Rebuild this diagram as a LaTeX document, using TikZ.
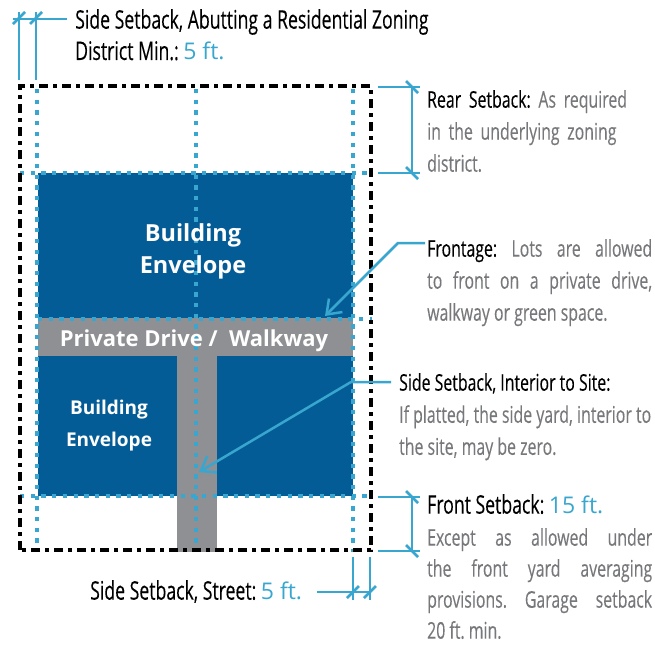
\documentclass[tikz,border=0pt]{standalone}
\usepackage{fontspec}
\setmainfont{Open Sans}[FakeStretch=0.69,FakeBold=0.2]
\newfontfamily\widefont{Open Sans}
\usetikzlibrary{arrows.meta}
\definecolor{setblue}{HTML}{38A6CE}
\definecolor{envblue}{HTML}{045C96}
\definecolor{drivegray}{HTML}{8E9093}
\definecolor{notegray}{HTML}{77787B}
\frenchspacing
\tikzset{
  x=1pt,y=-1pt,
  lead/.style={draw=setblue,line width=2.5pt},
  arrowlead/.style={lead,-{Straight Barb[length=13pt,width=19pt,line width=2.5pt]}},
  tick/.style={draw=setblue,line width=2.5pt},
  setdots/.style={draw=setblue,line width=4.3pt,dash pattern=on 4.3pt off 6.4pt},
  lotline/.style={draw=black,line width=4.8pt,dash pattern=on 9pt off 5pt on 4pt off 5pt},
  label/.style={anchor=north west,inner sep=0pt,font=\fontsize{#1}{32}\selectfont,text=black},
  label/.default=25.6,
  note/.style={label=#1,text=notegray,align=justify},
  note/.default=23,
  envtext/.style={text=white,align=center,inner sep=0pt,font=\widefont\bfseries\fontsize{#1}{32}\selectfont},
}
\newcommand{\blu}[1]{\textcolor{setblue}{\widefont\fontsize{23}{32}\selectfont #1}}
\newcommand{\gry}[1]{\textcolor{notegray}{#1}}
\begin{document}
\begin{tikzpicture}
\useasboundingbox (0,0) rectangle (655,645);
% fills
\fill[envblue] (38,173) rectangle (353,496);
\fill[drivegray] (38,318) rectangle (353,356);
\fill[drivegray] (177,356) rectangle (217,552);
% dotted setbacks
\draw[setdots] (37,89) -- (37,552);
\draw[setdots] (196,89) -- (196,552);
\draw[setdots] (353,89) -- (353,552);
\draw[setdots] (20,173) -- (372,173);
\draw[setdots] (38,319) -- (372,319);
\draw[setdots] (20,496) -- (372,496);
% lot
\draw[lotline] (20,550) -- (20,86) -- (371,86) -- (371,550) -- cycle;
% coordinates
\coordinate (tl) at (19,80); \coordinate (tr) at (36,80);
\coordinate (tlt) at (19,12); \coordinate (trt) at (36,12);
\coordinate (ta) at (13,19); \coordinate (tb) at (67,19);
% top dims
\draw[tick] (tl) -- (tlt);
\draw[tick] (tr) -- (trt);
\draw[lead] (ta) -- (tb);
\foreach \cx in {19,36} \draw[tick] (\cx-6,24) -- (\cx+6,12);
% rear dim
\draw[lead] (378,87) -- (420,87);
\draw[lead] (378,173) -- (420,173);
\draw[lead] (412,87) -- (412,173);
\foreach \cy in {87,173} \draw[tick] (406,\cy-6) -- (418,\cy+6);
% front dim
\draw[lead] (378,497) -- (420,497);
\draw[lead] (378,551) -- (420,551);
\draw[lead] (412,497) -- (412,551);
\foreach \cy in {497,551} \draw[tick] (406,\cy-6) -- (418,\cy+6);
% bottom dim
\draw[lead] (353,557) -- (353,600);
\draw[lead] (370,557) -- (370,600);
\draw[lead] (317,592) -- (370,592);
\foreach \cx in {353,370} \draw[tick] (\cx-6,598) -- (\cx+6,586);
% leaders
\coordinate (fa) at (425,243); \coordinate (fb) at (398,243); \coordinate (fc) at (325,316);
\draw[arrowlead] (fa) -- (fb) -- (fc);
\coordinate (sa) at (391,382); \coordinate (sb) at (351,382); \coordinate (sc) at (199,472);
\draw[arrowlead] (sa) -- (sb) -- (sc);
% text
\node[label] (t1) at (75,9) {Side Setback, Abutting a Residential Zoning};
\node[label] (t1b) at (75,41) {District Min.: \blu{5 ft.}};
\node[label=23,text width=225pt,align=left] (t2) at (427,90) {Rear Setback: \gry{As required}\\ \gry{in the underlying zoning}\\ \gry{district.}};
\node[label=23,text width=225pt,align=justify] (t3) at (427,239) {Frontage: \gry{Lots are allowed}\linebreak \gry{to front on a private drive,}\linebreak \gry{walkway or green space.}};
\node[label=23] (t4) at (399,373) {Side Setback, Interior to Site:};
\node[note,text width=252pt] (t4b) at (399,405) {If platted, the side yard, interior to\linebreak the site, may be zero.};
\node[label] (t5) at (427,494) {Front Setback: \blu{15 ft.}};
\node[note,text width=225pt,font=\fontsize{23}{31}\selectfont] (t5b) at (427,528) {Except as allowed under\linebreak the front yard averaging\linebreak provisions. Garage setback\linebreak 20 ft. min.};
\node[label] (t6) at (90,580) {Side Setback, Street: \blu{5 ft.}};
\node[envtext=23.5] (e1) at (193,251) {Building\\Envelope};
\node[envtext=19] (e2) at (109,426) {Building\\Envelope};
\node[envtext=22] (d1) at (194,341) {Private Drive / \ Walkway};
\end{tikzpicture}
\end{document}
